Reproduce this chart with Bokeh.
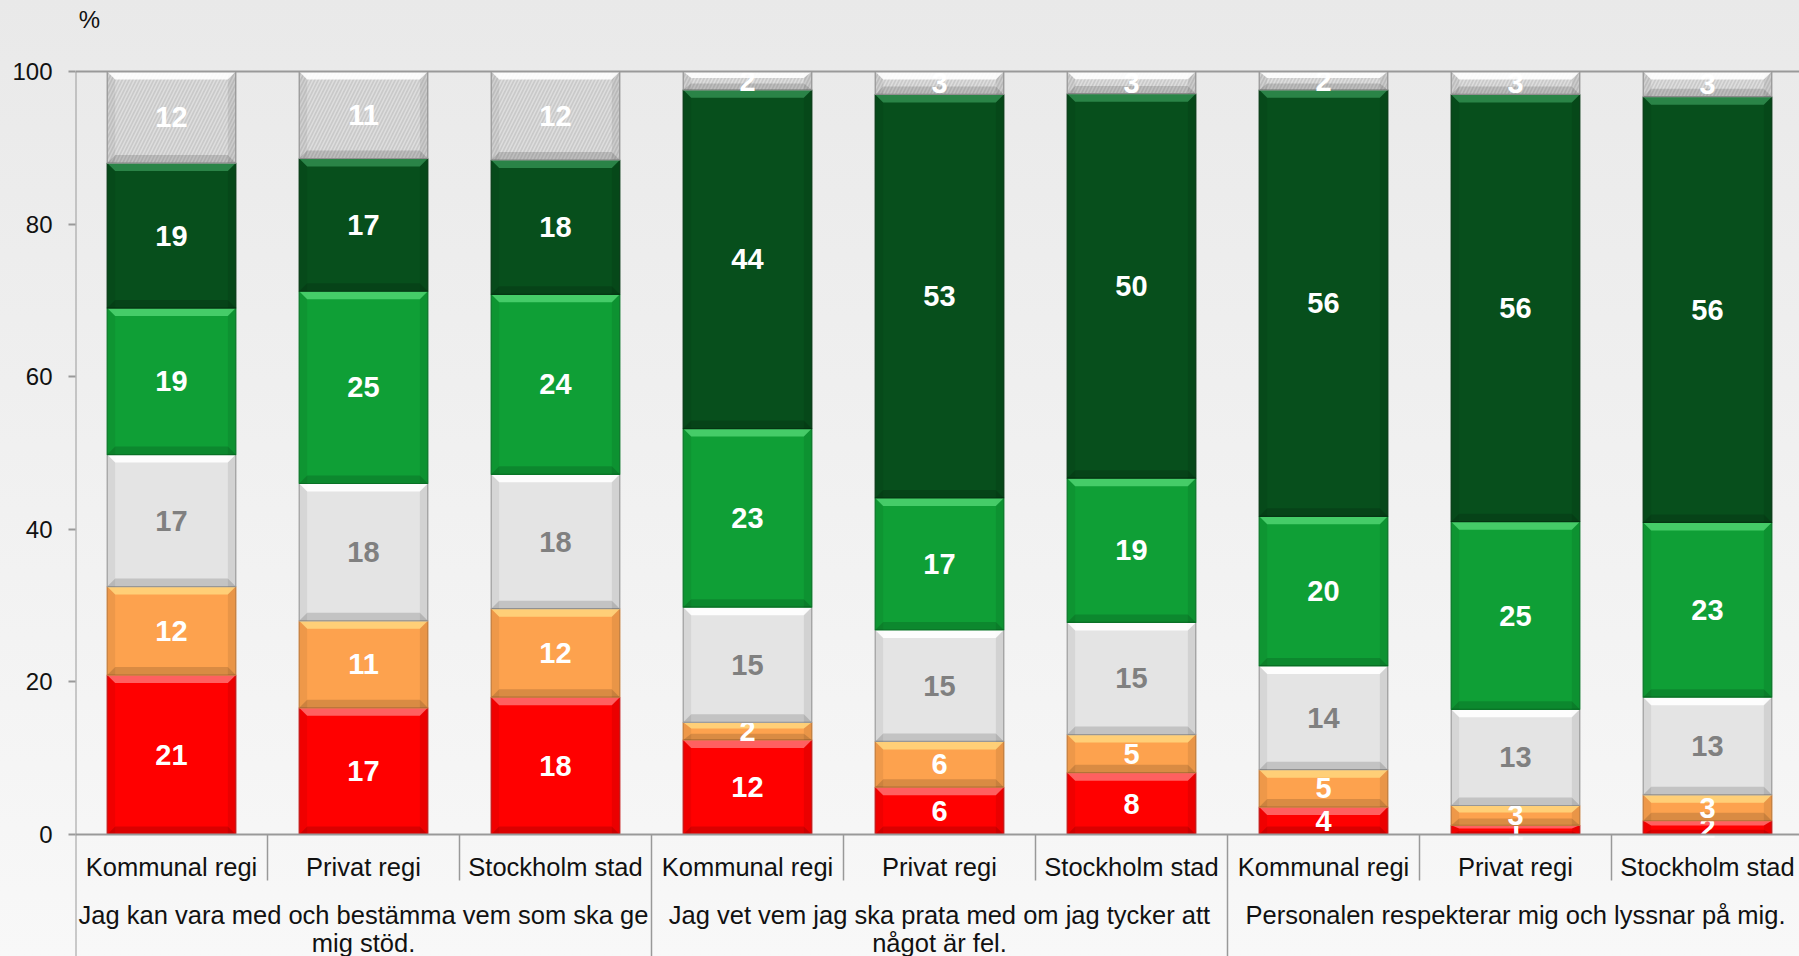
from bokeh.plotting import figure
from bokeh.models import Range1d, FixedTicker, Span
from bokeh.embed import file_html
from bokeh.resources import INLINE
from bokeh.core.properties import value

# ---------------- data ----------------
group_lines = [
    ["Jag kan vara med och bestämma vem som ska ge", "mig stöd."],
    ["Jag vet vem jag ska prata med om jag tycker att", "något är fel."],
    ["Personalen respekterar mig och lyssnar på mig."],
]
categories = ["Kommunal regi", "Privat regi", "Stockholm stad"]

series_names = ["Stämmer inte alls", "Stämmer ganska dåligt", "Varken eller",
                "Stämmer ganska bra", "Stämmer helt och hållet", "Vet ej"]

# one value per bar (3 groups x 3 categories), bottom to top
stammer_inte_alls = [20.9, 16.6, 18.0, 12.4, 6.2, 8.1, 3.6, 1.2, 1.8]
stammer_daligt    = [11.6, 11.4, 11.6, 2.3, 6.0, 5.0, 4.9, 2.6, 3.4]
varken_eller      = [17.3, 18.0, 17.6, 15.1, 14.6, 14.7, 13.6, 12.6, 12.8]
stammer_bra       = [19.2, 25.2, 23.6, 23.4, 17.3, 18.9, 19.6, 24.6, 22.9]
stammer_helt      = [19.0, 17.4, 17.6, 44.4, 52.9, 50.4, 55.9, 56.0, 55.8]
vet_ej            = [12.0, 11.4, 11.6, 2.4, 3.0, 2.9, 2.4, 3.0, 3.3]

y_ticks = [0, 20, 40, 60, 80, 100]

# ---------------- style ----------------
fills      = ["#ff0000", "#fda24e", "#e4e4e4", "#0f9f36", "#074f1c", "#c9c9c9"]
highlights = ["#ff6a6a", "#ffd47c", "#ffffff", "#4bd06e", "#2f8a4c", "#ffffff"]
edges      = ["#c81818", "#c9813f", "#a3a3a3", "#0a7a29", "#053a14", "#9a9a9a"]
label_cols = ["white", "white", "#808080", "white", "white", "white"]

W, H = 1799, 956
LEFT = 75            # y-axis position in figure pixels
CAT_PX = 192         # pixel width of one category
TOP_PX, ZERO_PX = 71, 834
PPU = (ZERO_PX - TOP_PX) / 100.0

x_end = (W - LEFT) / CAT_PX
y_end = 100 + TOP_PX / PPU
y_start = -(H - ZERO_PX) / PPU

p = figure(width=W, height=H, output_backend="svg", toolbar_location=None,
           x_range=Range1d(0, x_end), y_range=Range1d(y_start, y_end),
           min_border_left=LEFT, min_border_right=0, min_border_top=0,
           min_border_bottom=0)
p.background_fill_color = None
p.border_fill_color = None
p.outline_line_color = None
p.xgrid.visible = False
p.ygrid.visible = False
p.xaxis.visible = False

ax = p.yaxis[0]
ax.ticker = FixedTicker(ticks=y_ticks)
ax.axis_line_color = None
ax.major_tick_out = 7
ax.major_tick_in = 0
ax.minor_tick_line_color = None
ax.major_tick_line_color = "#999999"
ax.major_tick_line_width = 2
ax.major_label_standoff = 16
ax.major_label_text_font = "Liberation Sans"
ax.major_label_text_font_size = "24px"
ax.major_label_text_color = "#111111"

FONT = value("Liberation Sans")

series = [stammer_inte_alls, stammer_daligt, varken_eller, stammer_bra, stammer_helt, vet_ej]
n = len(stammer_inte_alls)
xc = [i + 0.5 for i in range(n)]
bw = 0.67
dx = 8.0 / CAT_PX
bev = 8.0 / PPU

bottoms = [0.0] * n
for s, vals in enumerate(series):
    tops = [b + v for b, v in zip(bottoms, vals)]
    lefts = [x - bw / 2 for x in xc]
    rights = [x + bw / 2 for x in xc]
    kw = {}
    if s == 5:
        kw = dict(hatch_pattern="/", hatch_color="#dedede", hatch_scale=7, hatch_weight=1.5)
    p.quad(left=lefts, right=rights, bottom=bottoms, top=tops,
           fill_color=fills[s], line_color=edges[s], line_width=1.2, **kw)
    # side shading
    p.quad(left=lefts, right=[l + dx for l in lefts], bottom=bottoms, top=tops,
           fill_color="black", fill_alpha=0.06, line_color=None)
    p.quad(left=[r - dx for r in rights], right=rights, bottom=bottoms, top=tops,
           fill_color="black", fill_alpha=0.08, line_color=None)
    # top bevel highlight
    hs = [min(bev, 0.35 * v) for v in vals]
    p.patches(xs=[[l, r, r - dx, l + dx] for l, r in zip(lefts, rights)],
              ys=[[t, t, t - h, t - h] for t, h in zip(tops, hs)],
              fill_color=highlights[s], fill_alpha=0.9, line_color=None)
    # bottom bevel shadow
    p.patches(xs=[[l, r, r - dx, l + dx] for l, r in zip(lefts, rights)],
              ys=[[b, b, b + h, b + h] for b, h in zip(bottoms, hs)],
              fill_color="black", fill_alpha=0.14, line_color=None)
    # value labels
    p.text(x=xc, y=[(b + t) / 2 for b, t in zip(bottoms, tops)],
           text=[str(int(round(v))) for v in vals],
           text_font=FONT, text_font_style="bold", text_font_size="29px",
           text_color=label_cols[s], text_align="center", text_baseline="middle")
    bottoms = tops

# axis lines
p.add_layout(Span(location=0, dimension="width", line_color="#999999", line_width=2))
p.add_layout(Span(location=100, dimension="width", line_color="#999999", line_width=2))

n_groups = len(group_lines)
n_cats = len(categories)
p.segment(x0=[0], y0=[100], x1=[0], y1=[y_start], line_color="#999999", line_width=2)
p.segment(x0=[g * n_cats for g in range(1, n_groups)], y0=0,
          x1=[g * n_cats for g in range(1, n_groups)], y1=y_start,
          line_color="#999999", line_width=1.5)
inner = [g * n_cats + c for g in range(n_groups) for c in range(1, n_cats)]
p.segment(x0=inner, y0=0, x1=inner, y1=-46.0 / PPU, line_color="#999999", line_width=1.5)

# category labels
p.text(x=xc, y=-32.0 / PPU, text=[categories[i % n_cats] for i in range(n)],
       text_font=FONT, text_font_size="25.5px", text_color="#111111",
       text_align="center", text_baseline="alphabetic")

# group labels
for g, lines in enumerate(group_lines):
    for k, line in enumerate(lines):
        p.text(x=[g * n_cats + n_cats / 2], y=[(-80.0 - 28.0 * k) / PPU], text=[line],
               text_font=FONT, text_font_size="25.5px", text_color="#111111",
               text_align="center", text_baseline="alphabetic")

# unit label
p.text(x=[14.0 / CAT_PX], y=[100 + 52.0 / PPU], text=["%"], text_font=FONT,
       text_font_size="24px", text_color="#111111", text_align="center",
       text_baseline="middle")

html = file_html(p, INLINE)
html = html.replace("<head>", "<head><style>html{background:linear-gradient(#e9e9e9,#f8f8f8);min-height:100%;}</style>", 1)
open("out.html", "w").write(html)
